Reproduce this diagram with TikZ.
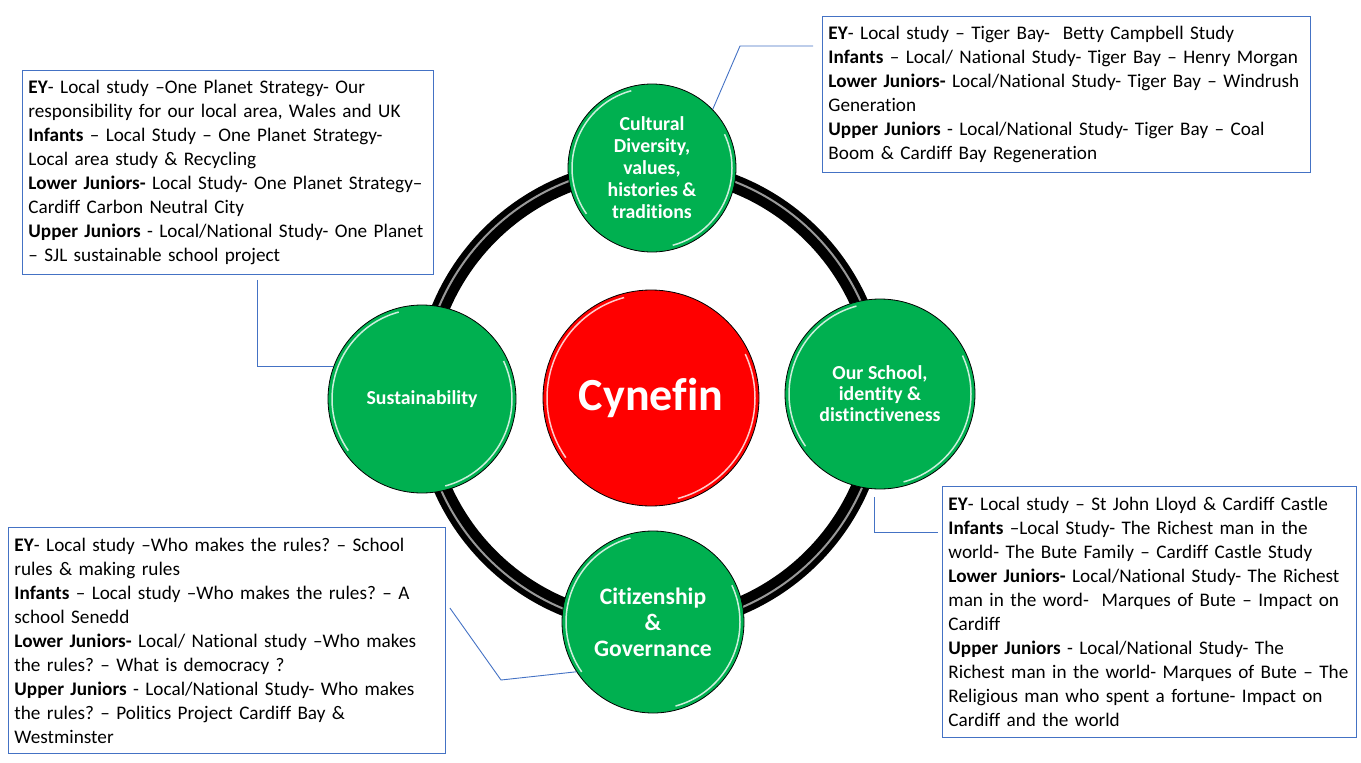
\documentclass[tikz,border=0pt]{standalone}
\usepackage{fontspec}
\setmainfont{Carlito}[Ligatures={TeX,CommonOff}]
\usetikzlibrary{calc}
\frenchspacing

\definecolor{topicgreen}{HTML}{00B050}
\definecolor{linkblue}{HTML}{4472C4}

\begin{document}
\begin{tikzpicture}[
    x=1pt, y=1pt,
    topic/.style={circle, fill=topicgreen, draw=black, line width=0.8pt, inner sep=0pt, text=white, align=center}, % green topic discs
    hub/.style={topic, fill=red}, % centre disc
    infobox/.style={draw=linkblue, line width=0.9pt, anchor=north west, align=left, inner xsep=6pt, inner ysep=4pt, font=\fontsize{19.2}{24}\selectfont},
    link/.style={draw=linkblue, line width=0.9pt}
]

\useasboundingbox (0,0) rectangle (1361,-763);

% Ring behind the discs
\coordinate (ringc) at (651,-396);
\def\ringrad{228}
\draw[line width=18pt] (ringc) circle[radius=\ringrad];
\draw[black!40, line width=2pt] (ringc) circle[radius=\ringrad+2];

% Discs
\node[hub, minimum size=216pt, font=\bfseries\fontsize{46}{50}\selectfont] (cynefin) at (651,-398) {Cynefin};
\node[topic, minimum size=168pt, font=\bfseries\fontsize{19.8}{22}\selectfont] (culture) at (652,-168) {Cultural\\Diversity,\\values,\\histories \&\\traditions};
\node[topic, minimum size=188pt, font=\bfseries\fontsize{19.8}{21}\selectfont] (sustain) at (422,-399) {Sustainability};
\node[topic, minimum size=190pt, font=\bfseries\fontsize{19.8}{21}\selectfont] (school) at (880,-394) {Our School,\\identity \&\\distinctiveness};
\node[topic, minimum size=182pt, font=\bfseries\fontsize{23.6}{26}\selectfont] (citizen) at (653,-622) {Citizenship\\\&\\Governance};

% Gloss on the disc edges
\foreach \n/\r in {cynefin/108, culture/84, sustain/94, school/95, citizen/91} {
    \draw[white, opacity=0.8, line width=1.5pt] ($(\n)+(105:{\r-4})$) arc[start angle=105, end angle=215, radius=\r-4];
    \draw[white, opacity=0.8, line width=1.5pt] ($(\n)+(-75:{\r-4})$) arc[start angle=-75, end angle=25, radius=\r-4];
}

% Text boxes
\node[infobox, minimum width=488pt, minimum height=156pt, text width=476pt] (boxCulture) at (822,-16) {%
\textbf{EY}- Local study -- Tiger Bay-\ \ Betty Campbell Study\\
\textbf{Infants} -- Local/ National Study- Tiger Bay -- Henry Morgan\\
\textbf{Lower Juniors-} Local/National Study- Tiger Bay -- Windrush\\
Generation\\
\textbf{Upper Juniors} - Local/National Study- Tiger Bay -- Coal\\
Boom \& Cardiff Bay Regeneration};

\node[infobox, minimum width=411pt, minimum height=204pt, text width=399pt] (boxSustain) at (22,-70) {%
\textbf{EY}- Local study --One Planet Strategy- Our\\
responsibility for our local area, Wales and UK\\
\textbf{Infants} -- Local Study -- One Planet Strategy-\\
Local area study \& Recycling\\
\textbf{Lower Juniors-} Local Study- One Planet Strategy--\\
Cardiff Carbon Neutral City\\
\textbf{Upper Juniors} - Local/National Study- One Planet\\
-- SJL sustainable school project};

\node[infobox, minimum width=437pt, minimum height=226pt, text width=425pt] (boxCitizen) at (8,-527) {%
\textbf{EY}- Local study --Who makes the rules? -- School\\
rules \& making rules\\
\textbf{Infants} -- Local study --Who makes the rules? -- A\\
school Senedd\\
\textbf{Lower Juniors-} Local/ National study --Who makes\\
the rules? -- What is democracy ?\\
\textbf{Upper Juniors} - Local/National Study- Who makes\\
the rules? -- Politics Project Cardiff Bay \&\\
Westminster};

\node[infobox, minimum width=414pt, minimum height=251pt, text width=402pt] (boxSchool) at (942,-486) {%
\textbf{EY}- Local study -- St John Lloyd \& Cardiff Castle\\
\textbf{Infants} --Local Study- The Richest man in the\\
world- The Bute Family -- Cardiff Castle Study\\
\textbf{Lower Juniors-} Local/National Study- The Richest\\
man in the word-\ \ Marques of Bute -- Impact on\\
Cardiff\\
\textbf{Upper Juniors} - Local/National Study- The\\
Richest man in the world- Marques of Bute -- The\\
Religious man who spent a fortune- Impact on\\
Cardiff and the world};

% Connectors
\coordinate (bendCulture) at (740,-46);
\coordinate (bendCitizen) at (501,-680);
\draw[link] ($(boxCulture.north west)+(-9,-30)$) -- (bendCulture) -- (culture.44);
\draw[link] ($(boxSustain.south west)+(235,-5)$) |- (sustain.160);
\draw[link] ($(boxCitizen.north east)+(4,-81)$) -- (bendCitizen) -- (citizen.213);
\draw[link] ($(school.south)+(-6,-8)$) |- ($(boxSchool.north west)+(-4,-46)$);

\end{tikzpicture}
\end{document}
